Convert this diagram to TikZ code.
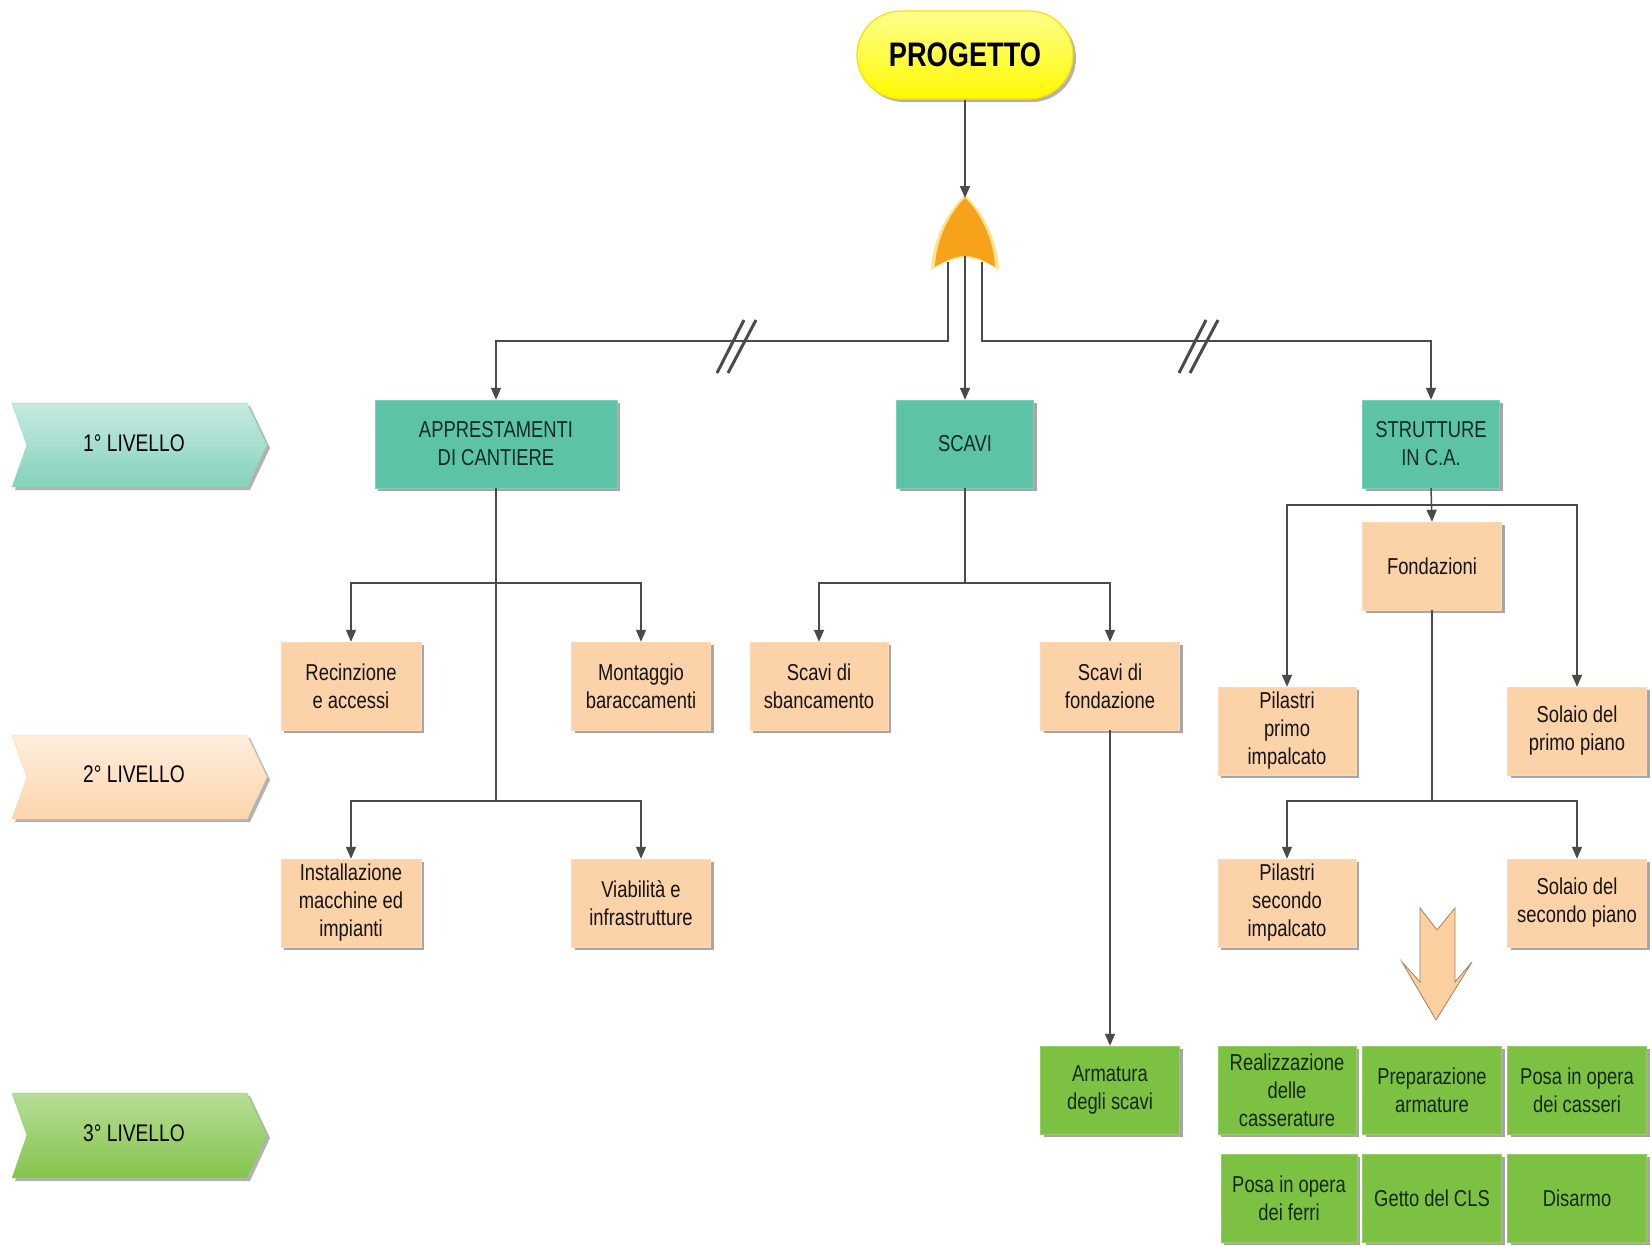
\documentclass[tikz,border=0pt]{standalone}
\usepackage{fontspec}
\setmainfont[FakeStretch=0.8]{Liberation Sans}
\usetikzlibrary{arrows.meta,shadows}
\definecolor{teal1}{HTML}{5DC3A7}
\definecolor{peach}{HTML}{FCD3A8}
\definecolor{leaf}{HTML}{7DC142}
\definecolor{linec}{HTML}{4A4A4A}
\definecolor{gateor}{HTML}{F7A21B}
\definecolor{tealtxt}{HTML}{0F2A26}
\definecolor{leaftxt}{HTML}{14290C}
\tikzset{
  boxbase/.style={minimum height=88pt, inner sep=2pt, align=center,
     font=\fontsize{23}{28}\selectfont,
     drop shadow={shadow xshift=3pt, shadow yshift=-3pt, opacity=0.35, fill=black}},
  tealbox/.style={boxbase, fill=teal1, draw=teal1!80!white, text=tealtxt},
  peachbox/.style={boxbase, fill=peach, draw=peach!85!white, text=black!92},
  leafbox/.style={boxbase, fill=leaf, draw=leaf!80!white, text=leaftxt},
  conn/.style={draw=linec, line width=1.5pt},
  arr/.style={conn, -{Triangle[width=10pt,length=12pt]}},
  slash/.style={draw=linec, line width=3pt},
  lvltext/.style={font=\fontsize{24}{28}\selectfont, text=black},
  chev/.style={drop shadow={shadow xshift=3pt, shadow yshift=-3pt, opacity=0.3, fill=black}}
}
\begin{document}
\begin{tikzpicture}[x=1pt,y=-1pt]
\useasboundingbox[fill=white] (0,0) rectangle (1652,1247);

% level chevrons
\path[chev, top color=teal1!35!white, bottom color=teal1!75!white, draw=teal1!70!white]
  (12,403) -- (247,403) -- (267,445) -- (247,487) -- (12,487) -- (27,445) -- cycle;
\node[lvltext] (lv1) at (134,443) {1° LIVELLO};
\path[chev, top color=peach!40!white, bottom color=peach!95!white, draw=peach]
  (12,735) -- (247,735) -- (267,777) -- (247,819) -- (12,819) -- (27,777) -- cycle;
\node[lvltext] (lv2) at (134,774) {2° LIVELLO};
\path[chev, top color=leaf!55!white, bottom color=leaf!95!white, draw=leaf!80!white]
  (12,1093) -- (247,1093) -- (267,1135) -- (247,1178) -- (12,1178) -- (27,1135) -- cycle;
\node[lvltext] (lv3) at (134,1133) {3° LIVELLO};

% top
\node[minimum width=216pt, minimum height=88pt, rounded corners=44pt,
      top color=yellow!45!white, bottom color=yellow!95!orange, draw=yellow!80!orange, line width=1.2pt,
      drop shadow={shadow xshift=3pt, shadow yshift=-3pt, opacity=0.3, fill=black},
      font=\fontsize{34}{40}\selectfont\bfseries] (prog) at (965,55) {PROGETTO};

% OR gate
\coordinate (gtip) at (965,198);
\coordinate (gl) at (948,262);
\coordinate (gc) at (965,256);
\coordinate (gr) at (982,262);
\fill[yellow!40!gateor!45!white] (965,195) .. controls (948,210) and (932,240) .. (931,270)
   .. controls (947,260) and (956,258) .. (965,258) .. controls (974,258) and (983,260) .. (999,270)
   .. controls (998,240) and (982,210) .. (965,195) -- cycle;
\fill[gateor] (965,198) .. controls (950,212) and (936,240) .. (935,267)
   .. controls (948,259) and (956,256) .. (965,256) .. controls (974,256) and (982,259) .. (995,267)
   .. controls (994,240) and (980,212) .. (965,198) -- cycle;

% level 1
\node[tealbox, minimum width=242pt] (appr) at (496,444) {APPRESTAMENTI\\DI CANTIERE};
\node[tealbox, minimum width=137pt] (scavi) at (965,444) {SCAVI};
\node[tealbox, minimum width=137pt] (strut) at (1431,444) {STRUTTURE\\IN C.A.};

% level 2
\node[peachbox, minimum width=140pt] (recinz) at (351,686) {Recinzione\\e accessi};
\node[peachbox, minimum width=139pt] (montag) at (641,686) {Montaggio\\baraccamenti};
\node[peachbox, minimum width=140pt] (install) at (351,903) {Installazione\\macchine ed\\impianti};
\node[peachbox, minimum width=139pt] (viab) at (641,903) {Viabilità e\\infrastrutture};
\node[peachbox, minimum width=138pt] (sbanc) at (819,686) {Scavi di\\sbancamento};
\node[peachbox, minimum width=139pt] (sfond) at (1110,686) {Scavi di\\fondazione};
\node[peachbox, minimum width=139pt] (fondaz) at (1432,566) {Fondazioni};
\node[peachbox, minimum width=138pt] (pil1) at (1287,731) {Pilastri\\primo\\impalcato};
\node[peachbox, minimum width=139pt] (sol1) at (1577,731) {Solaio del\\primo piano};
\node[peachbox, minimum width=138pt] (pil2) at (1287,903) {Pilastri\\secondo\\impalcato};
\node[peachbox, minimum width=139pt] (sol2) at (1577,903) {Solaio del\\secondo piano};

% level 3
\node[leafbox, minimum width=139pt] (armat) at (1110,1090) {Armatura\\degli scavi};
\node[leafbox, minimum width=138pt] (realiz) at (1287,1090) {Realizzazione\\delle\\casserature};
\node[leafbox, minimum width=139pt] (prepar) at (1432,1090) {Preparazione\\armature};
\node[leafbox, minimum width=139pt] (casseri) at (1577,1090) {Posa in opera\\dei casseri};
\node[leafbox, minimum width=136pt] (ferri) at (1289,1198) {Posa in opera\\dei ferri};
\node[leafbox, minimum width=139pt] (getto) at (1432,1198) {Getto del CLS};
\node[leafbox, minimum width=139pt] (disarmo) at (1577,1198) {Disarmo};

% big down arrow
\filldraw[fill=peach!95!orange, draw=brown!60!gray, line width=0.8pt]
  (1420,908) -- (1437,930) -- (1455,908) -- (1455,982) -- (1472,962) -- (1436,1020)
  -- (1402,962) -- (1420,982) -- cycle;

% connectors
\coordinate (bus) at (0,341);
\draw[arr] (prog.south) -- (gtip);
\draw[arr] (gl) -- (gl |- bus) -| (appr.north);
\draw[arr] (gc) -- (scavi.north);
\draw[arr] (gr) -- (gr |- bus) -| (strut.north);

% slashes
\draw[slash] (717,373) -- (744,320);
\draw[slash] (728,373) -- (756,320);
\draw[slash] (1179,373) -- (1206,320);
\draw[slash] (1190,373) -- (1218,320);

\coordinate (aj1) at (496,583);
\coordinate (aj2) at (496,801);
\draw[conn] (appr.south) -- (aj2);
\draw[arr] (aj1) -| (recinz.north);
\draw[arr] (aj1) -| (montag.north);
\draw[arr] (aj2) -| (install.north);
\draw[arr] (aj2) -| (viab.north);

\coordinate (sj) at (965,583);
\draw[conn] (scavi.south) -- (sj);
\draw[arr] (sj) -| (sbanc.north);
\draw[arr] (sj) -| (sfond.north);
\draw[arr] (sfond.south) -- (armat.north);

\coordinate (tj) at (1431,505);
\draw[arr] (strut.south) -- (fondaz.north);
\draw[arr] (tj) -| (pil1.north);
\draw[arr] (tj) -| (sol1.north);

\coordinate (fj) at (1432,801);
\draw[conn] (fondaz.south) -- (fj);
\draw[arr] (fj) -| (pil2.north);
\draw[arr] (fj) -| (sol2.north);
\end{tikzpicture}
\end{document}
